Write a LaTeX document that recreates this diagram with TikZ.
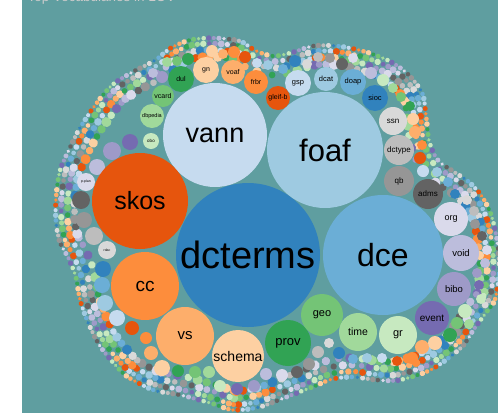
\documentclass[tikz,border=0pt]{standalone}
\usepackage{fontspec}
\setmainfont{Liberation Sans}
\usetikzlibrary{decorations.markings}

% category20c colours: blues, oranges, greens, purples, greys
\definecolor{pal0}{HTML}{3182BD}
\definecolor{pal1}{HTML}{6BAED6}
\definecolor{pal2}{HTML}{9ECAE1}
\definecolor{pal3}{HTML}{C6DBEF}
\definecolor{pal4}{HTML}{E6550D}
\definecolor{pal5}{HTML}{FD8D3C}
\definecolor{pal6}{HTML}{FDAE6B}
\definecolor{pal7}{HTML}{FDD0A2}
\definecolor{pal8}{HTML}{31A354}
\definecolor{pal9}{HTML}{74C476}
\definecolor{pal10}{HTML}{A1D99B}
\definecolor{pal11}{HTML}{C7E9C0}
\definecolor{pal12}{HTML}{756BB1}
\definecolor{pal13}{HTML}{9E9AC8}
\definecolor{pal14}{HTML}{BCBDDC}
\definecolor{pal15}{HTML}{DADAEB}
\definecolor{pal16}{HTML}{636363}
\definecolor{pal17}{HTML}{969696}
\definecolor{pal18}{HTML}{BDBDBD}
\definecolor{pal19}{HTML}{D9D9D9}
\definecolor{lovbg}{HTML}{5F9EA0}

\newcommand{\fs}[1]{\fontsize{#1}{#1}\selectfont}
\tikzstyle{bub}=[circle, inner sep=0pt, text=black]

\begin{document}
\begin{tikzpicture}[x=1pt, y=-1pt]
\useasboundingbox (0,0) rectangle (498,413);
\clip (0,0) rectangle (498,413);
\fill[white] (0,0) rectangle (22,413);
\fill[lovbg] (22,0) rectangle (498,413);
% Title, cut off by the top edge
\node[anchor=base west, text=black!20, font=\fs{13.5}] (title) at (24,1.5) {Top Vocabularies in LOV};
% Fringe of tiny bubbles along the rim
\foreach \dep/\rad/\gap/\sh in {3/2.3/5.2/0, 8.5/2.9/6.4/7, 15/3.5/7.8/13, 22/4.2/9.2/3}
  \path[decorate, decoration={markings, mark=between positions 0 and 1 step \gap pt with {%
      \pgfmathtruncatemacro\nn{\pgfkeysvalueof{/pgf/decoration/mark info/sequence number}}%
      \pgfmathtruncatemacro\k{mod(\nn+\sh,20)}%
      \pgfmathsetmacro\rr{\rad*(0.8+0.1*mod(\nn*7,5))}%
      \fill[pal\k] (0pt,-\dep pt) circle (\rr pt);}}]
    plot[smooth cycle] coordinates {(213,35) (240,38) (257,48) (273,53) (290,50) (313,43)
      (337,43) (363,48) (390,58) (410,72) (425,92) (429,115) (432,140) (440,158) (455,169)
      (470,179) (484,194) (494,214) (500,240) (502,270) (498,300) (488,315) (477,330)
      (463,350) (433,372) (400,383) (377,383) (353,380) (333,382) (313,390) (287,400)
      (260,410) (233,413) (210,406) (180,398) (153,393) (127,380) (113,367) (97,347)
      (85,323) (77,300) (73,278) (66,260) (57,243) (53,222) (53,198) (57,170) (67,147)
      (77,127) (93,103) (110,83) (130,70) (153,58) (170,45) (190,37)};
% Small unlabelled bubbles
\foreach \x/\y/\r/\k in {130/142/8/12, 112/151/9/13, 97/167/8/14, 81/200/9/16, 84/220/8/17,
    94/236/9/18, 103/269/8/0, 102/285/8/1, 105/303/8/2, 117/318/8/3, 132/328/7/4, 146/338/6/5,
    151/353/7/6, 162/368/8/7, 178/371/6/8, 195/372/6/9, 209/372/6/10, 220/386/6/11,
    237/389/6/12, 254/386/6/13, 266/374/6/14, 282/375/6/15, 297/372/6/16, 309/364/6/17,
    318/352/6/18, 329/343/5/19, 339/353/6/0, 353/359/5/1, 367/358/5/2, 382/358/5/3,
    397/361/5/4, 412/358/6/5, 422/347/7/6, 435/343/7/7, 450/335/7/8, 457/323/6/9,
    469/324/5/10, 465/311/7/11, 481/299/5/11, 479/285/5/12, 477/273/5/13, 485/263/5/14,
    487/250/5/15, 482/236/5/16, 475/224/5/17, 474/211/5/18, 467/200/5/19, 455/194/5/0,
    448/182/5/1, 437/172/5/2, 423/171/6/3, 420/158/6/4, 422/145/5/5, 415/132/6/6,
    413/119/6/7, 410/106/5/8, 401/97/5/9, 393/88/5/10, 383/80/6/11, 371/73/6/14,
    353/58/5/15, 342/64/6/16, 330/58/5/17, 318/57/5/18, 307/64/5/19, 295/61/6/0,
    283/69/5/1, 268/65/5/2, 257/63/5/3, 245/57/6/4, 234/52/6/5, 223/54/5/6, 212/51/6/7,
    188/59/6/8, 177/61/5/9, 167/62/5/10, 162/77/6/13, 153/73/5/14}
  \fill[pal\k] (\x,\y) circle (\r);
% Labelled bubbles
\node[bub, fill=pal0, minimum size=144pt, font=\fs{38}] (dcterms) at (248,255) {dcterms};
\node[bub, fill=pal1, minimum size=120pt, font=\fs{32}] (dce) at (383,255) {dce};
\node[bub, fill=pal2, minimum size=116pt, font=\fs{31}] (foaf) at (325,150) {foaf};
\node[bub, fill=pal3, minimum size=104pt, font=\fs{27}] (vann) at (215,135) {vann};
\node[bub, fill=pal4, minimum size=96pt, font=\fs{25}] (skos) at (140,201) {skos};
\node[bub, fill=pal5, minimum size=68pt, font=\fs{19}] (cc) at (145,286) {cc};
\node[bub, fill=pal6, minimum size=58pt, font=\fs{15}] (vs) at (185,336) {vs};
\node[bub, fill=pal7, minimum size=52pt, font=\fs{14}] (schema) at (238,356) {schema};
\node[bub, fill=pal8, minimum size=46pt, font=\fs{13}] (prov) at (288,343) {prov};
\node[bub, fill=pal9, minimum size=42pt, font=\fs{11}] (geo) at (322,315) {geo};
\node[bub, fill=pal10, minimum size=38pt, font=\fs{10.5}] (time) at (358,332) {time};
\node[bub, fill=pal11, minimum size=38pt, font=\fs{11}] (gr) at (398,335) {gr};
\node[bub, fill=pal12, minimum size=34pt, font=\fs{10}] (event) at (432,318) {event};
\node[bub, fill=pal13, minimum size=34pt, font=\fs{9.5}] (bibo) at (454,289) {bibo};
\node[bub, fill=pal14, minimum size=36pt, font=\fs{9.5}] (void) at (461,253) {void};
\node[bub, fill=pal15, minimum size=34pt, font=\fs{9}] (org) at (451,219) {org};
\node[bub, fill=pal16, minimum size=30pt, font=\fs{8}] (adms) at (428,194) {adms};
\node[bub, fill=pal17, minimum size=30pt, font=\fs{8}] (qb) at (399,181) {qb};
\node[bub, fill=pal18, minimum size=30pt, font=\fs{8}] (dctype) at (399,150) {dctype};
\node[bub, fill=pal19, minimum size=28pt, font=\fs{8}] (ssn) at (393,121) {ssn};
\node[bub, fill=pal0, minimum size=26pt, font=\fs{7.5}] (sioc) at (375,98) {sioc};
\node[bub, fill=pal1, minimum size=26pt, font=\fs{7.5}] (doap) at (353,82) {doap};
\node[bub, fill=pal2, minimum size=24pt, font=\fs{7.5}] (dcat) at (326,79) {dcat};
\node[bub, fill=pal3, minimum size=26pt, font=\fs{7.5}] (gsp) at (298,83) {gsp};
\node[bub, fill=pal4, minimum size=24pt, font=\fs{7}] (gleifb) at (278,98) {gleif-b};
\node[bub, fill=pal5, minimum size=24pt, font=\fs{7}] (frbr) at (256,82) {frbr};
\node[bub, fill=pal6, minimum size=24pt, font=\fs{7}] (voaf) at (233,72) {voaf};
\node[bub, fill=pal7, minimum size=26pt, font=\fs{7}] (gn) at (206,70) {gn};
\node[bub, fill=pal8, minimum size=26pt, font=\fs{7}] (dul) at (181,79) {dul};
\node[bub, fill=pal9, minimum size=22pt, font=\fs{7}] (vcard) at (163,96) {vcard};
\node[bub, fill=pal10, minimum size=24pt, font=\fs{5.5}] (dbpedia) at (152,116) {dbpedia};
\node[bub, fill=pal11, minimum size=16pt, font=\fs{4.5}] (obo) at (151,141) {obo};
\node[bub, fill=pal15, minimum size=18pt, font=\fs{3.5}] (pplan) at (86,182) {p-plan};
\node[bub, fill=pal19, minimum size=18pt, font=\fs{3.5}] (rdac) at (107,250) {rdac};
\end{tikzpicture}
\end{document}
